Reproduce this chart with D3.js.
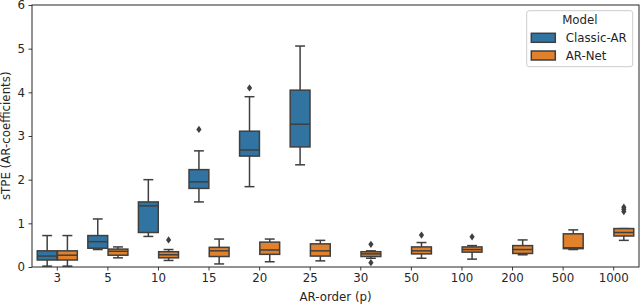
<!DOCTYPE html>
<html>
<head>
<meta charset="utf-8">
<script src="https://cdn.jsdelivr.net/npm/d3@7"></script>
<style>
  body { margin: 0; background: #fff; }
  text { font-family: "DejaVu Sans", sans-serif; fill: #262626; }
</style>
</head>
<body>
<svg id="chart"></svg>
<script>
// AR orders on the x axis
const orders = ["3", "5", "10", "15", "20", "25", "30", "50", "100", "200", "500", "1000"];
const models = ["Classic-AR", "AR-Net"];
const yTicks = [0, 1, 2, 3, 4, 5, 6];

// box stats per order: [whisker low, q1, median, q3, whisker high], null = no box
const classicStats = [
  [0.02, 0.16, 0.25, 0.37, 0.72],
  [0.40, 0.43, 0.58, 0.72, 1.10],
  [0.70, 0.79, 1.40, 1.49, 2.00],
  [1.49, 1.80, 1.95, 2.23, 2.66],
  [1.84, 2.54, 2.68, 3.11, 3.90],
  [2.34, 2.75, 3.27, 4.05, 5.06],
  null, null, null, null, null, null
];
const classicOutliers = [[], [], [], [3.15], [4.10], [], [], [], [], [], [], []];

const arnetStats = [
  [0.02, 0.16, 0.27, 0.37, 0.72],
  [0.21, 0.27, 0.36, 0.41, 0.46],
  [0.15, 0.21, 0.28, 0.35, 0.40],
  [0.07, 0.24, 0.37, 0.45, 0.64],
  [0.12, 0.29, 0.39, 0.57, 0.64],
  [0.14, 0.25, 0.37, 0.53, 0.61],
  [0.20, 0.24, 0.30, 0.35, 0.37],
  [0.20, 0.30, 0.37, 0.46, 0.56],
  [0.18, 0.34, 0.40, 0.46, 0.49],
  [0.28, 0.31, 0.40, 0.49, 0.62],
  [0.40, 0.42, 0.44, 0.76, 0.85],
  [0.61, 0.71, 0.79, 0.88, 0.88]
];
const arnetOutliers = [[], [], [0.62], [], [], [], [0.52, 0.10], [0.73], [0.69], [], [], [1.37, 1.32, 1.27]];

const margin = { top: 5, right: 1, bottom: 37, left: 32 },
  width = 640 - margin.left - margin.right,
  height = 304 - margin.top - margin.bottom;

const lineColor = "#3f3f3f";
const color = d3.scaleOrdinal().domain(models).range(["#3274a1", "#e1812c"]);

const svg = d3.select("#chart")
  .attr("width", width + margin.left + margin.right)
  .attr("height", height + margin.top + margin.bottom)
  .append("g")
  .attr("transform", `translate(${margin.left},${margin.top})`);

const x = d3.scaleBand().domain(orders).range([0, width]).padding(0);
const y = d3.scaleLinear().domain([0, 6]).range([height, 0]);

// hue offsets like seaborn: total width 0.8 split in two
const hue = d3.scaleBand().domain(models).range([-x.bandwidth() * 0.4, x.bandwidth() * 0.4]);
const boxW = hue.bandwidth() * 0.98;

const rows = [];
orders.forEach((o, i) => {
  if (classicStats[i]) rows.push({ order: o, model: "Classic-AR", s: classicStats[i], out: classicOutliers[i] });
  rows.push({ order: o, model: "AR-Net", s: arnetStats[i], out: arnetOutliers[i] });
});

const boxes = svg.append("g")
  .selectAll("g")
  .data(rows)
  .enter()
  .append("g")
  .attr("transform", d => `translate(${x(d.order) + x.bandwidth() / 2 + hue(d.model) + hue.bandwidth() / 2},0)`);

// whiskers
boxes.append("line")
  .attr("y1", d => y(d.s[0])).attr("y2", d => y(d.s[1]))
  .attr("stroke", lineColor).attr("stroke-width", 1.5);
boxes.append("line")
  .attr("y1", d => y(d.s[3])).attr("y2", d => y(d.s[4]))
  .attr("stroke", lineColor).attr("stroke-width", 1.5);
// caps
[0, 4].forEach(k => {
  boxes.append("line")
    .attr("x1", -boxW / 4).attr("x2", boxW / 4)
    .attr("y1", d => y(d.s[k])).attr("y2", d => y(d.s[k]))
    .attr("stroke", lineColor).attr("stroke-width", 1.5);
});
// box
boxes.append("rect")
  .attr("x", -boxW / 2)
  .attr("width", boxW)
  .attr("y", d => y(d.s[3]))
  .attr("height", d => y(d.s[1]) - y(d.s[3]))
  .attr("fill", d => color(d.model))
  .attr("stroke", lineColor).attr("stroke-width", 1.5);
// median
boxes.append("line")
  .attr("x1", -boxW / 2).attr("x2", boxW / 2)
  .attr("y1", d => y(d.s[2])).attr("y2", d => y(d.s[2]))
  .attr("stroke", lineColor).attr("stroke-width", 1.5);
// outliers (thin diamonds)
boxes.selectAll("path")
  .data(d => d.out)
  .enter()
  .append("path")
  .attr("d", "M0,-3.6L2.6,0L0,3.6L-2.6,0Z")
  .attr("transform", v => `translate(0,${y(v)})`)
  .attr("fill", lineColor);

// axes
const xAxis = svg.append("g")
  .attr("transform", `translate(0,${height})`)
  .call(d3.axisBottom(x).tickSize(3.5).tickSizeOuter(0).tickPadding(3.5));
const yAxis = svg.append("g")
  .call(d3.axisLeft(y).tickValues(yTicks).tickFormat(d3.format("d")).tickSize(3.5).tickSizeOuter(0).tickPadding(3.5));
[xAxis, yAxis].forEach(a => {
  a.select(".domain").remove();
  a.selectAll("line").attr("stroke", "#262626").attr("stroke-width", 0.9);
  a.selectAll("text").style("font-size", "11.8px").attr("fill", "#262626");
});

// frame
svg.append("rect")
  .attr("width", width).attr("height", height)
  .attr("fill", "none").attr("stroke", "#262626").attr("stroke-width", 1);

// axis labels
svg.append("text")
  .attr("x", width / 2)
  .attr("y", height + 33.5)
  .attr("text-anchor", "middle")
  .style("font-size", "11.8px")
  .text("AR-order (p)");

svg.append("text")
  .attr("transform", "rotate(-90)")
  .attr("x", -(135.8 - margin.top))
  .attr("y", 10 - margin.left)
  .attr("text-anchor", "middle")
  .style("font-size", "11.8px")
  .text("sTPE (AR-coefficients)");

// legend
const legend = svg.append("g")
  .attr("transform", `translate(${526.7 - margin.left},${10.7 - margin.top})`);
legend.append("rect")
  .attr("width", 106).attr("height", 56)
  .attr("rx", 2.5)
  .attr("fill", "#fff").attr("fill-opacity", 0.8)
  .attr("stroke", "#cccccc").attr("stroke-width", 1);
legend.append("text")
  .attr("x", 53.2).attr("y", 13.8)
  .attr("text-anchor", "middle")
  .style("font-size", "11.8px")
  .text("Model");
models.forEach((m, i) => {
  legend.append("rect")
    .attr("x", 4.6).attr("y", 22.6 + i * 17.7)
    .attr("width", 24).attr("height", 9)
    .attr("fill", color(m))
    .attr("stroke", lineColor).attr("stroke-width", 1.5);
  legend.append("text")
    .attr("x", 39).attr("y", 31.4 + i * 17.7)
    .style("font-size", "11.8px")
    .text(m);
});
</script>
</body>
</html>
